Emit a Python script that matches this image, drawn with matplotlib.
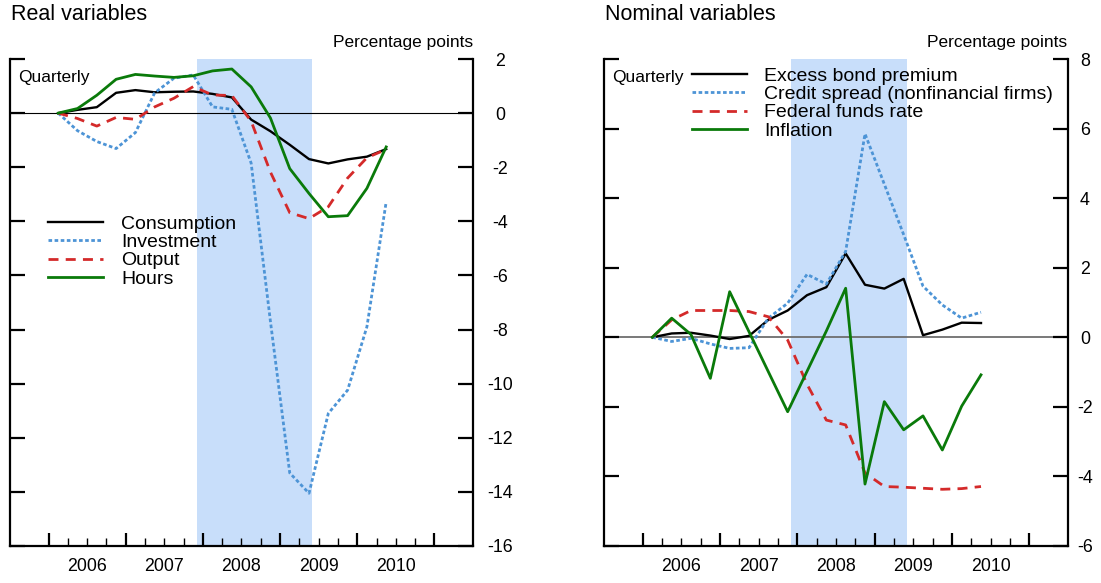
import numpy as np
import matplotlib
matplotlib.use("Agg")
import matplotlib.pyplot as plt
from matplotlib.ticker import FixedLocator

plt.rcParams['font.family'] = ['Liberation Sans', 'DejaVu Sans']
plt.rcParams['axes.unicode_minus'] = False

# quarterly observations, 2006Q1 - 2010Q2, plotted at mid-quarter
quarters = ['2006Q1', '2006Q2', '2006Q3', '2006Q4', '2007Q1', '2007Q2', '2007Q3', '2007Q4',
            '2008Q1', '2008Q2', '2008Q3', '2008Q4', '2009Q1', '2009Q2', '2009Q3', '2009Q4',
            '2010Q1', '2010Q2']

# real variables (percentage points)
consumption = [0, 0.12, 0.22, 0.75, 0.85, 0.77, 0.79, 0.80, 0.71, 0.58,
               -0.24, -0.67, -1.17, -1.70, -1.86, -1.71, -1.61, -1.33]
investment = [0, -0.65, -1.05, -1.31, -0.72, 0.75, 1.29, 1.41, 0.23, 0.14,
              -1.85, -7.7, -13.3, -14.05, -11.1, -10.24, -7.9, -3.28]
output = [0, -0.2, -0.48, -0.16, -0.23, 0.23, 0.55, 0.98, 0.67, 0.65,
          -0.3, -2.18, -3.68, -3.9, -3.46, -2.4, -1.65, -1.34]
hours = [0, 0.17, 0.66, 1.25, 1.43, 1.37, 1.32, 1.38, 1.56, 1.63,
         0.97, -0.18, -2.05, -2.97, -3.83, -3.79, -2.78, -1.25]

# nominal variables (percentage points)
ebp = [0, 0.11, 0.13, 0.05, -0.05, 0.04, 0.5, 0.77, 1.21, 1.44,
       2.41, 1.51, 1.40, 1.68, 0.06, 0.22, 0.42, 0.41]
credit_spread = [0, -0.12, -0.03, -0.19, -0.32, -0.3, 0.55, 0.98, 1.81, 1.53,
                 2.47, 5.85, 4.4, 2.95, 1.47, 0.93, 0.55, 0.72]
fed_funds = [0, 0.5, 0.77, 0.77, 0.77, 0.74, 0.59, -0.08, -1.35, -2.38,
             -2.52, -3.9, -4.29, -4.31, -4.34, -4.37, -4.35, -4.29]
inflation = [0, 0.55, 0.08, -1.18, 1.31, 0.16, -0.99, -2.14, -0.98, 0.18,
             1.41, -4.22, -1.85, -2.66, -2.26, -3.24, -1.98, -1.08]

years = [2006, 2007, 2008, 2009, 2010]
recession = (2007.917, 2009.417)   # Dec 2007 - Jun 2009

x = np.array([int(q[:4]) + (int(q[-1]) - 1) * 0.25 + 0.125 for q in quarters])

BLACK = '#000000'
BLUE = '#4d94d6'
RED = '#d42a2a'
GREEN = '#0a7a0a'
SHADE = '#c8defa'

fig = plt.figure(figsize=(11.01, 5.83), dpi=100)
W, H = 1101, 583


def make_axes(x0, x1, ylim, ystep, label_pad, zero_color, zero_lw):
    ax = fig.add_axes([x0 / W, (H - 546) / H, (x1 - x0) / W, (546 - 59) / H])
    ax.set_xlim(2005.5, 2011.5)
    ax.set_ylim(*ylim)
    ax.axvspan(*recession, color=SHADE, lw=0, zorder=0)
    ax.axhline(0, color=zero_color, lw=zero_lw, zorder=1)

    ax.spines['top'].set_visible(False)
    for s in ('left', 'right', 'bottom'):
        ax.spines[s].set_linewidth(1.6)

    # year boundaries as major ticks, quarters as minor ticks
    ax.xaxis.set_major_locator(FixedLocator(list(range(2006, 2012))))
    ax.xaxis.set_minor_locator(FixedLocator([y + q for y in range(2006, 2011) for q in (0.25, 0.5, 0.75)]))
    ax.tick_params(axis='x', which='major', direction='in', length=9.5, width=1.6, labelbottom=False)
    ax.tick_params(axis='x', which='minor', direction='in', length=5.8, width=1.0)
    for yr in years:
        ax.text(yr + 0.5, -0.043, str(yr), transform=ax.get_xaxis_transform(),
                ha='center', va='center', fontsize=12.8)

    ax.set_yticks(np.arange(ylim[0], ylim[1] + 0.1, ystep))
    ax.tick_params(axis='y', which='both', direction='in', length=10.8, width=1.6,
                   left=True, right=True, labelleft=False, labelright=True,
                   labelsize=12.8, pad=label_pad)
    for lab in ax.get_yticklabels():
        lab.set_horizontalalignment('center')
    ax.text(0.018, 0.963, 'Quarterly', transform=ax.transAxes, fontsize=12.5, va='center', ha='left')
    return ax


# ---- real variables
ax1 = make_axes(10, 473, (-16, 2), 2, 19.4, 'black', 0.8)
ax1.plot(x, consumption, color=BLACK, lw=1.7, label='Consumption', zorder=3)
ax1.plot(x, investment, color=BLUE, lw=2.0, ls=(0, (1.3, 0.9)), label='Investment', zorder=3)
ax1.plot(x, output, color=RED, lw=2.0, ls=(0, (3.6, 2.6)), label='Output', zorder=3)
ax1.plot(x, hours, color=GREEN, lw=2.0, label='Hours', zorder=3)
ax1.legend(loc='upper left', bbox_to_anchor=(48 / W, (H - 215) / H), bbox_transform=fig.transFigure,
           frameon=False, fontsize=14, handlelength=2.85, handletextpad=0.9,
           labelspacing=0.04, borderpad=0, borderaxespad=0)

fig.text(11 / W, 1 - 15 / H, 'Real variables', fontsize=15.5, va='center', ha='left')
fig.text(473 / W, 1 - 42 / H, 'Percentage points', fontsize=12.5, va='center', ha='right')

# ---- nominal variables
ax2 = make_axes(604, 1068, (-6, 8), 2, 12.2, '#6e6e6e', 1.3)
ax2.plot(x, ebp, color=BLACK, lw=1.7, label='Excess bond premium', zorder=3)
ax2.plot(x, credit_spread, color=BLUE, lw=2.0, ls=(0, (1.3, 0.9)),
         label='Credit spread (nonfinancial firms)', zorder=3)
ax2.plot(x, fed_funds, color=RED, lw=2.0, ls=(0, (3.6, 2.6)), label='Federal funds rate', zorder=3)
ax2.plot(x, inflation, color=GREEN, lw=2.0, label='Inflation', zorder=3)
ax2.legend(loc='upper left', bbox_to_anchor=(691.5 / W, (H - 67) / H), bbox_transform=fig.transFigure,
           frameon=False, fontsize=14, handlelength=2.85, handletextpad=0.9,
           labelspacing=0.04, borderpad=0, borderaxespad=0)

fig.text(605 / W, 1 - 15 / H, 'Nominal variables', fontsize=15.5, va='center', ha='left')
fig.text(1067 / W, 1 - 42 / H, 'Percentage points', fontsize=12.5, va='center', ha='right')

fig.savefig('out.png', dpi=100)
